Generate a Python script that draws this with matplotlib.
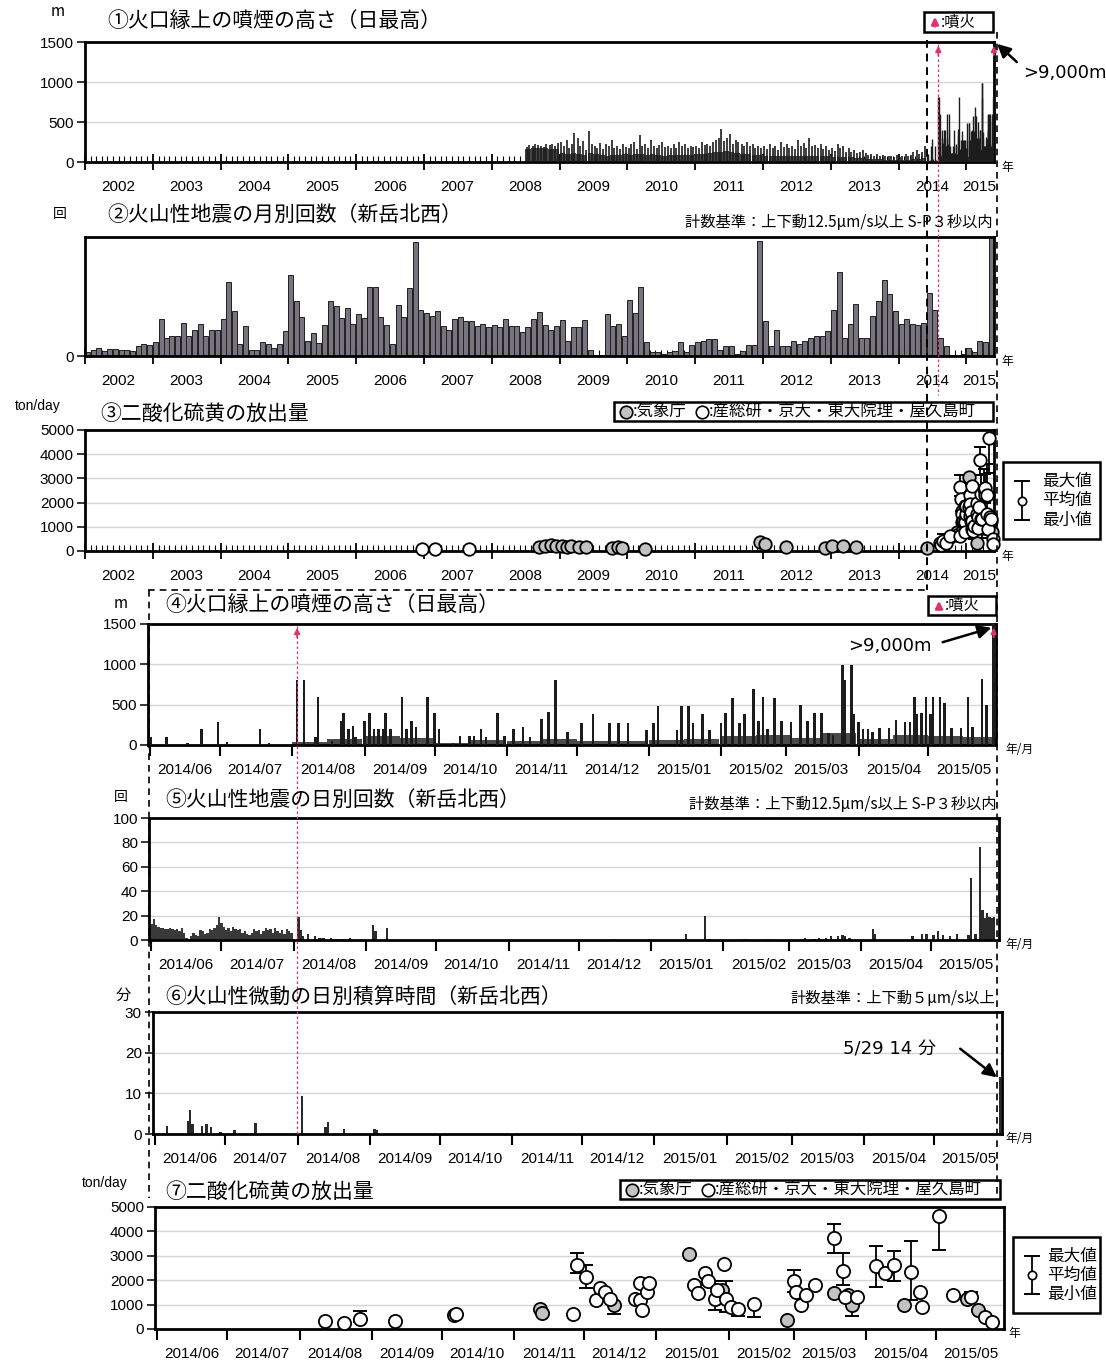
import numpy as np
import pandas as pd
import matplotlib
matplotlib.use('Agg')
import matplotlib.pyplot as plt
import matplotlib.dates as mdates
from matplotlib.patches import Rectangle, FancyArrowPatch
from matplotlib.lines import Line2D
from matplotlib import font_manager as fm

_names = {f.name for f in fm.fontManager.ttflist}
NUMF = ['Liberation Sans Narrow'] if 'Liberation Sans Narrow' in _names else ['Liberation Sans']
JP = ['Noto Sans CJK JP', 'DejaVu Sans']
plt.rcParams['font.family'] = JP

# ---------------- DATA ----------------
# Panel 1 : plume height (2008-07 .. 2014-05), monthly base level and half-month peaks [m]
p1_start = '2008-07-01'
p1_base = [160, 170, 170, 170, 160, 160,
           110, 100, 110, 100, 90, 110, 100, 90, 80, 90, 90, 100,
           90, 100, 100, 90, 100, 90, 80, 90, 90, 90, 90, 90,
           100, 100, 110, 120, 130, 140, 120, 110, 100, 100, 90, 90,
           80, 80, 80, 80, 80, 70, 80, 80, 70, 70, 70, 70,
           60, 60, 60, 60, 50, 50, 40, 40, 40, 30, 30, 30,
           30, 30, 40, 40, 50]
p1_peak = [190, 210, 200, 220, 210, 200, 190, 230, 210, 220, 200, 240,
           250, 200, 280, 180, 220, 360, 300, 200, 260, 150, 390, 220, 200, 180, 240, 160, 220, 200, 275, 180, 200, 160, 220, 190,
           180, 220, 250, 160, 340, 200, 230, 180, 275, 200, 180, 210, 250, 190, 200, 180, 230, 170, 250, 200, 220, 180, 200, 190,
           200, 180, 250, 210, 230, 200, 250, 280, 300, 415, 260, 300, 350, 230, 280, 250, 220, 200, 250, 200, 230, 180, 200, 170,
           200, 160, 230, 180, 200, 150, 250, 190, 220, 170, 200, 160, 280, 200, 240, 180, 300, 200, 210, 170, 230, 160, 200, 150,
           180, 140, 230, 170, 200, 130, 170, 120, 150, 110, 120, 150, 110, 90, 100, 80, 100, 70, 90, 80, 80, 70, 60, 90,
           60, 80, 100, 70, 90, 120, 150, 100, 130, 200]

# Panel 2 : monthly number of volcanic earthquakes (relative scale), 2002-01 .. 2015-05
p2_start = '2002-01-01'
p2_counts = [3, 5, 7, 4, 6, 6, 5, 5, 4, 8, 10, 9,
             12, 31, 15, 17, 17, 28, 17, 22, 27, 17, 22, 22,
             31, 62, 38, 10, 25, 5, 5, 12, 10, 7, 10, 21,
             68, 46, 33, 13, 19, 11, 26, 46, 42, 32, 40, 27,
             35, 32, 58, 58, 33, 26, 10, 43, 33, 57, 96, 39,
             36, 34, 38, 25, 22, 31, 33, 29, 29, 25, 27, 24,
             26, 24, 31, 25, 25, 20, 24, 31, 37, 26, 22, 25,
             30, 13, 24, 24, 30, 5, 1, 1, 35, 25, 27, 17,
             47, 36, 58, 12, 3, 3, 2, 3, 4, 12, 3, 9,
             12, 13, 14, 14, 5, 8, 8, 2, 4, 9, 9, 97,
             29, 8, 22, 8, 8, 13, 10, 13, 15, 17, 17, 21,
             39, 71, 15, 27, 44, 15, 15, 34, 46, 64, 52, 38,
             27, 31, 27, 26, 28, 53, 39, 15, 8, 1, 1, 2,
             7, 3, 13, 12, 100]

# Panel 3 : SO2 emission before 2014-08 [ton/day]
p3_dates = ['2006-12-20', '2007-03-01', '2007-09-01', '2008-09-10', '2008-10-12', '2008-11-15',
            '2008-12-10', '2009-01-12', '2009-02-08', '2009-03-05', '2009-04-15', '2009-05-25',
            '2009-10-10', '2009-11-10', '2009-12-05', '2010-04-05', '2011-12-15', '2012-01-15',
            '2012-05-05', '2012-12-01', '2013-01-05', '2013-03-05', '2013-05-15', '2014-06-05']
p3_vals = [80, 80, 100, 150, 200, 250, 220, 200, 180, 200, 170, 150,
           120, 150, 130, 100, 380, 300, 150, 130, 200, 200, 180, 120]
p3_src = ['O', 'O', 'O', 'J', 'J', 'J', 'J', 'J', 'J', 'J', 'J', 'J',
          'J', 'J', 'J', 'J', 'J', 'J', 'J', 'J', 'J', 'J', 'J', 'J']

# Panel 4 : daily max plume height 2014-06 .. 2015-05 [m]
p4_dates = ['2014-06-01', '2014-06-08', '2014-06-17', '2014-06-23', '2014-06-30', '2014-07-04', '2014-07-18', '2014-07-22',
            '2014-08-03', '2014-08-06', '2014-08-11', '2014-08-12', '2014-08-18', '2014-08-22', '2014-08-23', '2014-08-25',
            '2014-08-27', '2014-08-28', '2014-09-01', '2014-09-03', '2014-09-05', '2014-09-07', '2014-09-09', '2014-09-10',
            '2014-09-12', '2014-09-17', '2014-09-19', '2014-09-21', '2014-09-23', '2014-09-28', '2014-10-01', '2014-10-03',
            '2014-10-09', '2014-10-12', '2014-10-16', '2014-10-18', '2014-10-21', '2014-10-23', '2014-10-28', '2014-10-31',
            '2014-11-04', '2014-11-08', '2014-11-11', '2014-11-16', '2014-11-19', '2014-11-22', '2014-11-27', '2014-12-03',
            '2014-12-08', '2014-12-15', '2014-12-19', '2014-12-23', '2014-12-31', '2015-01-03', '2015-01-05', '2015-01-13',
            '2015-01-15', '2015-01-18', '2015-01-20', '2015-01-24', '2015-01-27', '2015-02-01', '2015-02-03', '2015-02-06',
            '2015-02-09', '2015-02-11', '2015-02-15', '2015-02-17', '2015-02-19', '2015-02-21', '2015-02-24', '2015-02-27',
            '2015-03-03', '2015-03-07', '2015-03-10', '2015-03-13', '2015-03-16', '2015-03-19', '2015-03-21', '2015-03-25',
            '2015-03-26', '2015-03-29', '2015-03-30', '2015-04-01', '2015-04-03', '2015-04-05', '2015-04-07', '2015-04-10',
            '2015-04-14', '2015-04-17', '2015-04-21', '2015-04-23', '2015-04-25', '2015-04-26', '2015-04-28', '2015-04-30',
            '2015-05-02', '2015-05-03', '2015-05-06', '2015-05-08', '2015-05-11', '2015-05-15', '2015-05-18', '2015-05-20',
            '2015-05-24', '2015-05-26', '2015-05-29']
p4_vals = [100, 100, 30, 200, 290, 40, 200, 30,
           810, 810, 100, 595, 50, 300, 400, 200,
           240, 100, 300, 400, 200, 200, 200, 400,
           200, 595, 200, 300, 220, 595, 400, 200,
           30, 115, 115, 115, 200, 100, 400, 115,
           200, 220, 100, 320, 410, 810, 165, 270,
           385, 270, 275, 270, 180, 275, 485, 185,
           485, 485, 275, 385, 180, 275, 400, 580,
           270, 390, 690, 300, 590, 200, 580, 300,
           290, 495, 300, 400, 400, 150, 120, 990,
           805, 990, 380, 290, 200, 200, 160, 205,
           205, 310, 290, 290, 590, 390, 400, 600,
           380, 600, 600, 515, 205, 205, 600, 220,
           815, 495, 9000]
# half-month background level of the daily plume heights [m]
p4_base = [5, 5, 5, 5, 40, 80, 110, 90, 30, 60, 50, 80,
           50, 50, 60, 70, 110, 130, 90, 150, 80, 120, 110, 100]

# Panel 5 : daily number of volcanic earthquakes
p5_jj = [13, 17, 12, 11, 10, 10, 9, 9, 10, 9, 8, 9, 7, 10, 6, 2, 1, 3, 6, 4, 3, 8, 7, 5, 6, 9, 8, 10, 12, 19,
         14, 11, 8, 10, 7, 11, 9, 8, 9, 6, 7, 5, 4, 6, 9, 7, 8, 5, 7, 10, 8, 9, 6, 10, 7, 6, 8, 5, 9, 7, 6]
p5_dates = ['2014-08-03', '2014-08-04', '2014-08-05', '2014-08-07', '2014-08-10', '2014-08-12', '2014-08-13',
            '2014-08-14', '2014-08-17', '2014-08-20', '2014-08-22', '2014-08-25', '2014-09-04', '2014-09-05',
            '2014-09-10', '2014-12-16', '2014-12-31', '2015-01-16', '2015-01-24', '2015-01-26', '2015-02-10',
            '2015-02-20', '2015-03-08', '2015-03-12', '2015-03-14', '2015-03-17', '2015-03-19', '2015-03-22',
            '2015-03-24', '2015-03-25', '2015-03-27', '2015-04-06', '2015-04-07', '2015-04-23', '2015-04-27',
            '2015-04-29', '2015-05-02', '2015-05-04', '2015-05-06', '2015-05-09', '2015-05-12', '2015-05-17',
            '2015-05-18', '2015-05-20', '2015-05-22', '2015-05-23', '2015-05-24', '2015-05-25', '2015-05-26',
            '2015-05-27', '2015-05-28']
p5_vals = [19, 8, 3, 5, 3, 2, 2, 2, 2, 1, 1, 2, 12, 7, 10, 1, 1, 5, 20, 1, 1, 1, 2, 1, 2, 2, 3, 3, 4, 3, 2,
           9, 5, 3, 5, 5, 4, 7, 4, 3, 5, 4, 51, 5, 76, 25, 18, 22, 19, 18, 19]

# Panel 6 : daily tremor duration [min]
p6_dates = ['2014-06-06', '2014-06-15', '2014-06-16', '2014-06-17', '2014-06-21', '2014-06-23', '2014-06-25',
            '2014-06-29', '2014-07-05', '2014-07-14', '2014-08-03', '2014-08-13', '2014-08-14', '2014-08-21',
            '2014-09-03', '2014-09-04', '2015-05-29']
p6_vals = [2, 3.3, 6, 2.5, 2, 2.5, 1.7, 0.6, 1, 2.7, 9.3, 1.7, 3, 1.2, 1.2, 1, 14]

# Panel 7 : SO2 emission 2014-08 .. 2015-05 [ton/day]; J = JMA (gray), O = others (white)
p7_dates = ['2014-08-12', '2014-08-20', '2014-08-27', '2014-09-11', '2014-10-06', '2014-10-07', '2014-11-12',
            '2014-11-13', '2014-11-26', '2014-11-28', '2014-12-02', '2014-12-06', '2014-12-08', '2014-12-10',
            '2014-12-12', '2014-12-14', '2014-12-23', '2014-12-25', '2014-12-25', '2014-12-26', '2014-12-28',
            '2014-12-29', '2015-01-15', '2015-01-17', '2015-01-19', '2015-01-22', '2015-01-23', '2015-01-26',
            '2015-01-27', '2015-01-29', '2015-01-30', '2015-01-31', '2015-02-02', '2015-02-05', '2015-02-12',
            '2015-02-26', '2015-03-01', '2015-03-02', '2015-03-04', '2015-03-06', '2015-03-10', '2015-03-18',
            '2015-03-18', '2015-03-22', '2015-03-23', '2015-03-24', '2015-03-26', '2015-03-28', '2015-04-05',
            '2015-04-09', '2015-04-13', '2015-04-17', '2015-04-20', '2015-04-24', '2015-04-25', '2015-05-02',
            '2015-05-08', '2015-05-14', '2015-05-16', '2015-05-19', '2015-05-22', '2015-05-25']
p7_mean = [310, 230, 400, 330, 580, 600, 800, 650, 630, 2640, 2150, 1180, 1670, 1530, 1250, 970, 1250, 1880,
           1180, 765, 1530, 1880, 3060, 1800, 1460, 2300, 1950, 1250, 1600, 1600, 2670, 1250, 900, 830, 1040,
           350, 1970, 1530, 970, 1390, 1800, 3750, 1460, 2360, 1320, 1390, 970, 1320, 2570, 2300, 2610, 970,
           2330, 1530, 900, 4650, 1390, 1220, 1320, 765, 490, 280]
nan = np.nan
p7_min = [nan, nan, 300, nan, nan, nan, nan, nan, nan, 2290, 1670, nan, nan, nan, nan, 625, nan, nan,
          nan, nan, nan, nan, nan, nan, nan, nan, nan, 760, nan, nan, nan, 700, nan, 550, 490,
          nan, 1530, nan, nan, nan, nan, 3120, nan, 1800, nan, nan, 550, nan, 1740, nan, 1970, nan,
          1180, nan, nan, 3220, nan, nan, nan, nan, nan, nan]
p7_max = [nan, nan, 720, nan, nan, nan, nan, nan, nan, 3130, 2640, nan, nan, nan, nan, nan, nan, nan,
          nan, nan, nan, nan, nan, nan, nan, nan, nan, 1950, nan, nan, nan, 1970, nan, nan, nan,
          nan, 2430, nan, nan, nan, nan, 4300, nan, 3120, nan, nan, nan, nan, 3400, nan, 3200, nan,
          3600, nan, nan, nan, nan, nan, 1530, nan, nan, nan]
p7_src = ['O', 'O', 'O', 'O', 'J', 'O', 'J', 'J', 'O', 'O', 'O', 'O', 'O', 'O', 'O', 'J', 'O', 'O',
          'O', 'O', 'O', 'O', 'J', 'O', 'O', 'O', 'O', 'O', 'O', 'J', 'O', 'O', 'O', 'O', 'O',
          'J', 'O', 'O', 'O', 'O', 'O', 'O', 'J', 'O', 'O', 'J', 'J', 'O', 'O', 'O', 'O', 'J',
          'O', 'O', 'O', 'O', 'O', 'J', 'O', 'J', 'O', 'O']

year_labels = [str(y) for y in range(2002, 2016)]
month_labels = ['2014/06', '2014/07', '2014/08', '2014/09', '2014/10', '2014/11', '2014/12',
                '2015/01', '2015/02', '2015/03', '2015/04', '2015/05']
eruptions = ['2014-08-03', '2015-05-29']

# ---------------- FIGURE ----------------
W, H = 1106, 1364
fig = plt.figure(figsize=(W / 100, H / 100), dpi=100)
fig.patch.set_facecolor('white')

def fx(x): return x / W
def fy(y): return 1 - y / H

def px_ax(l, r, t, b):
    return fig.add_axes([l / W, 1 - b / H, (r - l) / W, (b - t) / H])

def T(s): return pd.Timestamp(s)
def N(s): return mdates.date2num(pd.Timestamp(s))

D0, D1 = T('2002-01-01'), T('2015-05-30')
M0, M1 = T('2014-05-31'), T('2015-05-30')
GRID = '#d6d6d6'
BARC = '#1c1c1c'

def style_y(ax, ticks, ylim, grid=True, labels=True):
    ax.set_ylim(*ylim)
    ax.set_yticks(ticks)
    ax.set_yticklabels([str(v) for v in ticks] if labels else [], fontfamily=NUMF, fontsize=11)
    ax.tick_params(axis='y', direction='out', length=6, width=1.1, pad=2)
    for s in ax.spines.values():
        s.set_linewidth(2.0)
    if grid:
        for v in ticks[1:-1]:
            ax.axhline(v, color=GRID, lw=1, zorder=0)

def year_axis(ax):
    ax.set_xlim(D0, D1)
    ax.set_xticks(pd.date_range('2002-01-01', '2015-01-01', freq='YS'))
    ax.set_xticklabels([])
    ax.xaxis.set_minor_locator(mdates.MonthLocator())
    ax.tick_params(axis='x', which='major', direction='inout', length=12, width=1.3)
    ax.tick_params(axis='x', which='minor', direction='in', length=4, width=0.8)
    for lab in year_labels:
        pos = N(lab + '-07-01') if lab != '2015' else N('2015-03-10')
        ax.annotate(lab, xy=(pos, 0), xycoords=('data', 'axes fraction'), xytext=(0, -18),
                    textcoords='offset points', ha='center', va='center', fontfamily=NUMF, fontsize=11)

def month_axis(ax):
    ax.set_xlim(M0, M1)
    ax.set_xticks(pd.date_range('2014-06-01', '2015-05-01', freq='MS'))
    ax.set_xticklabels([])
    ax.tick_params(axis='x', which='major', direction='out', length=8, width=1.5)
    for i, lab in enumerate(month_labels):
        pos = N(pd.Timestamp('2014-06-01') + pd.DateOffset(months=i)) + 15
        ax.annotate(lab, xy=(pos, 0), xycoords=('data', 'axes fraction'), xytext=(0, -18),
                    textcoords='offset points', ha='center', va='center', fontfamily=NUMF, fontsize=11)

def ftext(x, y, s, **kw):
    kw.setdefault('va', 'center')
    fig.text(fx(x), fy(y), s, **kw)

def fline(xs, ys, **kw):
    fig.add_artist(Line2D([fx(x) for x in xs], [fy(y) for y in ys], transform=fig.transFigure, **kw))

def farrow(x0, y0, x1, y1, **kw):
    fig.add_artist(FancyArrowPatch((fx(x0), fy(y0)), (fx(x1), fy(y1)), transform=fig.transFigure, **kw))

def frect(x0, y0, x1, y1, lw=1.8):
    fig.add_artist(Rectangle((fx(x0), fy(y1)), fx(x1) - fx(x0), fy(y0) - fy(y1), transform=fig.transFigure,
                             fill=False, lw=lw, ec='black'))

def xpx(ax, date):
    return ax.transData.transform((N(date), 0))[0]

p4_d = pd.to_datetime(p4_dates)
p4_v = np.array(p4_vals, float)
p4_base_dates = [T('2014-06-01') + pd.DateOffset(months=i // 2) + pd.Timedelta(days=15 * (i % 2)) for i in range(len(p4_base))]

# ---- Panel 1 ----
ax1 = px_ax(85, 994, 42, 162)
year_axis(ax1)
style_y(ax1, [0, 500, 1000, 1500], (0, 1500))
p1_months = pd.date_range(p1_start, periods=len(p1_base), freq='MS')
ax1.bar(p1_months, p1_base, width=30, align='edge', color='#454545', lw=0, zorder=2)
p1_peak_dates = [m + pd.Timedelta(days=d) for m in p1_months for d in (7, 21)]
ax1.vlines(p1_peak_dates, 0, p1_peak, color=BARC, lw=1.2, zorder=3)
ax1.bar(p4_base_dates, p4_base, width=15, align='edge', color='#454545', lw=0, zorder=2)
ax1.vlines(p4_d, 0, p4_v, color=BARC, lw=1.0, zorder=3)

# ---- Panel 2 ----
ax2 = px_ax(85, 994, 237, 356)
year_axis(ax2)
style_y(ax2, [0], (0, 100), grid=False)
p2_months = pd.date_range(p2_start, periods=len(p2_counts), freq='MS')
ax2.bar(p2_months, p2_counts, width=27, align='edge', color='#77737f', edgecolor='#1f1f1f', lw=0.7, zorder=2)

# ---- Panel 3 ----
ax3 = px_ax(85, 994, 430, 551)
year_axis(ax3)
style_y(ax3, [0, 1000, 2000, 3000, 4000, 5000], (0, 5000))

def so2(ax, dates, mean, mn, mx, src, ms, cap):
    dates = pd.to_datetime(dates)
    mean = np.array(mean, float); mn = np.array(mn, float); mx = np.array(mx, float)
    src = np.array(src)
    top = np.where(np.isnan(mx), mean, mx)
    bot = np.where(np.isnan(mn), mean, mn)
    has = top > bot
    ax.vlines(dates[has], bot[has], top[has], color='black', lw=1.3, zorder=3, clip_on=False)
    hm = ~np.isnan(mx)
    lm = ~np.isnan(mn)
    ax.plot(dates[hm], mx[hm], ls='none', marker='_', ms=cap, mew=1.4, color='black', zorder=3, clip_on=False)
    ax.plot(dates[lm], mn[lm], ls='none', marker='_', ms=cap, mew=1.4, color='black', zorder=3, clip_on=False)
    for s, fc in (('J', '#c2c2c2'), ('O', 'white')):
        m = src == s
        ax.plot(dates[m], mean[m], ls='none', marker='o', ms=ms, mfc=fc, mec='black', mew=1.3,
                zorder=4, clip_on=False)

so2(ax3, p3_dates, p3_vals, [nan] * len(p3_vals), [nan] * len(p3_vals), p3_src, 9, 9)
so2(ax3, p7_dates, p7_mean, p7_min, p7_max, p7_src, 9, 9)

# ---- Panel 4 ----
ax4 = px_ax(148, 996, 624, 745)
month_axis(ax4)
style_y(ax4, [0, 500, 1000, 1500], (0, 1500))
ax4.bar(p4_base_dates, p4_base, width=15, align='edge', color='#4a4a4a', lw=0, zorder=2)
ax4.bar(p4_d, p4_v, width=1.1, color=BARC, lw=0, zorder=3)

# ---- Panel 5 ----
ax5 = px_ax(149, 999, 818, 940)
month_axis(ax5)
style_y(ax5, [0, 20, 40, 60, 80, 100], (0, 100))
ax5.bar(pd.date_range('2014-06-01', periods=len(p5_jj), freq='D'), p5_jj, width=1.0, color='#3a3a3a', lw=0, zorder=2)
ax5.bar(pd.to_datetime(p5_dates), p5_vals, width=1.0, color='#2a2a2a', lw=0, zorder=2)

# ---- Panel 6 ----
ax6 = px_ax(153, 1002, 1012, 1134)
month_axis(ax6)
style_y(ax6, [0, 10, 20, 30], (0, 30))
ax6.bar(pd.to_datetime(p6_dates), p6_vals, width=1.0, color='#2a2a2a', lw=0, zorder=2)

# ---- Panel 7 ----
ax7 = px_ax(155, 1004, 1207, 1329)
month_axis(ax7)
style_y(ax7, [0, 1000, 2000, 3000, 4000, 5000], (0, 5000))
so2(ax7, p7_dates, p7_mean, p7_min, p7_max, p7_src, 9.5, 10)

# ---------------- TEXT ----------------
TS = 15
ftext(107, 21, '①火口縁上の噴煙の高さ（日最高）', fontsize=TS)
ftext(107, 215, '②火山性地震の月別回数（新岳北西）', fontsize=TS)
ftext(100, 414, '③二酸化硫黄の放出量', fontsize=TS)
ftext(165, 605, '④火口縁上の噴煙の高さ（日最高）', fontsize=TS)
ftext(165, 800, '⑤火山性地震の日別回数（新岳北西）', fontsize=TS)
ftext(165, 997, '⑥火山性微動の日別積算時間（新岳北西）', fontsize=TS)
ftext(165, 1192, '⑦二酸化硫黄の放出量', fontsize=TS)

ftext(993, 222, '計数基準：上下動12.5μm/s以上 S-P３秒以内', fontsize=11, ha='right')
ftext(997, 804, '計数基準：上下動12.5μm/s以上 S-P３秒以内', fontsize=11, ha='right')
ftext(995, 998, '計数基準：上下動５μm/s以上', fontsize=11, ha='right')

ftext(58, 12, 'm', fontsize=11, ha='center')
ftext(60, 214, '回', fontsize=10, ha='center')
ftext(38, 406, 'ton/day', fontsize=10, ha='center', fontfamily=NUMF)
ftext(121, 603, 'm', fontsize=11, ha='center')
ftext(121, 797, '回', fontsize=10, ha='center')
ftext(123, 995, '分', fontsize=11, ha='center')
ftext(105, 1183, 'ton/day', fontsize=10, ha='center', fontfamily=NUMF)

for y in (168, 362, 556):
    ftext(1007, y, '年', fontsize=8.5, ha='center')
for y in (750, 944, 1139):
    ftext(1020, y, '年/月', fontsize=8.5, ha='center')
ftext(1014, 1333, '年', fontsize=8.5, ha='center')

# >9,000m annotations
ftext(1023, 73, '>9,000m', fontsize=13, fontfamily=['DejaVu Sans'])
farrow(1019, 64, 995, 42, arrowstyle='-|>', mutation_scale=20, lw=1.8, color='black')
ftext(848, 646, '>9,000m', fontsize=13, fontfamily=['DejaVu Sans'])
farrow(940, 643, 994, 627, arrowstyle='-|>', mutation_scale=20, lw=1.8, color='black')
ftext(843, 1050, '5/29 14 分', fontsize=13, fontfamily=['DejaVu Sans', 'Noto Sans CJK JP'])
farrow(958, 1047, 999, 1079, arrowstyle='-|>', mutation_scale=20, lw=1.8, color='black')

# eruption legend boxes
RED = '#e2316c'
for (x0, y0, x1, y1) in ((924, 12, 993, 32), (928, 596, 996, 615)):
    frect(x0, y0, x1, y1)
    farrow(x0 + 11, y1 - 3, x0 + 11, y0 + 2, arrowstyle='-|>', mutation_scale=10, lw=2.0, color=RED)
    ftext(x0 + 17, (y0 + y1) / 2, ':噴火', fontsize=11)

# SO2 source legend boxes
for (x0, y0, x1, y1) in ((614, 402, 993, 421), (620, 1180, 1000, 1199)):
    frect(x0, y0, x1, y1)
    ym = (y0 + y1) / 2
    fig.add_artist(Line2D([fx(x0 + 12)], [fy(ym)], transform=fig.transFigure, ls='none', marker='o', ms=9,
                          mfc='#c2c2c2', mec='black', mew=1.2))
    ftext(x0 + 19, ym, ':気象庁', fontsize=11.8)
    fig.add_artist(Line2D([fx(x0 + 88)], [fy(ym)], transform=fig.transFigure, ls='none', marker='o', ms=9,
                          mfc='white', mec='black', mew=1.2))
    ftext(x0 + 95, ym, ':産総研・京大・東大院理・屋久島町', fontsize=11.8)

# error-bar legend boxes
for (x0, y0, x1, y1) in ((1003, 462, 1100, 539), (1013, 1237, 1100, 1313)):
    frect(x0, y0, x1, y1)
    gx = x0 + 19
    yt, ym, yb = y0 + 19, (y0 + y1) / 2, y1 - 19
    fline([gx, gx], [yt, yb], color='black', lw=1.3)
    fline([gx - 7, gx + 7], [yt, yt], color='black', lw=1.4)
    fline([gx - 7, gx + 7], [yb, yb], color='black', lw=1.4)
    fig.add_artist(Line2D([fx(gx)], [fy(ym)], transform=fig.transFigure, ls='none', marker='o', ms=6,
                          mfc='white', mec='black', mew=1.2))
    tx = (gx + 12 + x1) / 2
    ftext(tx, yt, '最大値', fontsize=12, ha='center')
    ftext(tx, ym, '平均値', fontsize=12, ha='center')
    ftext(tx, yb, '最小値', fontsize=12, ha='center')

# ---------------- ZOOM / ERUPTION LINES ----------------
xz = xpx(ax1, '2014-06-01')
fline([xz, xz], [40, 590], color='black', lw=1.4, ls=(0, (4, 3)))
fline([148, xz], [590, 590], color='black', lw=1.2, ls=(0, (4, 3)))
fline([149, 149], [590, 1198], color='black', lw=1.2, ls=(0, (4, 3)))
fline([997, 997], [32, 1200], color='black', lw=1.2, ls=(0, (4, 3)))

xe1 = xpx(ax1, eruptions[0])
fline([xe1, xe1], [44, 395], color=RED, lw=0.9, ls=(0, (2, 2)))
xe4 = xpx(ax4, eruptions[0])
fline([xe4, xe4], [626, 1134], color=RED, lw=0.9, ls=(0, (2, 2)))
for ax, top in ((ax1, 42), (ax4, 624)):
    for e in eruptions:
        xe = xpx(ax, e)
        farrow(xe, top + 16, xe, top + 1, arrowstyle='-|>', mutation_scale=8, lw=1.3, color=RED)

fig.savefig('out.png', dpi=100, facecolor='white')
